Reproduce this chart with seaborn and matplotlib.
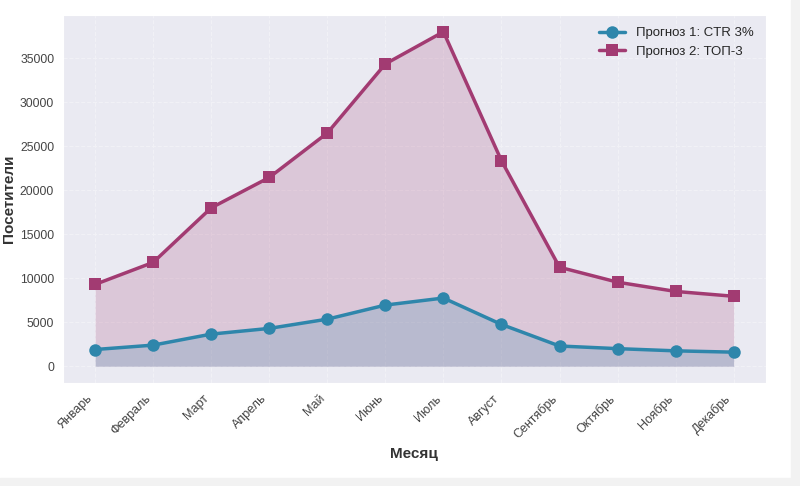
import pandas as pd
import matplotlib.pyplot as plt
import seaborn as sns
from matplotlib.patches import Rectangle

# Data
months = ["Январь", "Февраль", "Март", "Апрель", "Май", "Июнь",
          "Июль", "Август", "Сентябрь", "Октябрь", "Ноябрь", "Декабрь"]
forecast_ctr = [1900, 2400, 3650, 4300, 5350, 6950, 7750, 4750, 2300, 2000, 1750, 1600]
forecast_top3 = [9300, 11800, 18000, 21450, 26500, 34350, 38000, 23350, 11250, 9550, 8500, 7950]

label_ctr = "Прогноз 1: CTR 3%"
label_top3 = "Прогноз 2: ТОП-3"
blue = "#2E86AB"
pink = "#A23B72"

df = pd.DataFrame({"Месяц": months, "ctr": forecast_ctr, "top3": forecast_top3})
df["x"] = range(len(months))

sns.set_style("darkgrid", {"grid.linestyle": "--", "grid.color": "#F1F1F6"})
plt.rcParams['font.family'] = ['Liberation Sans', 'DejaVu Sans']

fig = plt.figure(figsize=(8, 4.86), dpi=100)
ax = fig.add_axes([0.079, 0.212, 0.878, 0.757])

# screenshot border in the reference
fig.patches.append(Rectangle((791 / 800, 0), 9 / 800, 1, transform=fig.transFigure,
                             color="#F2F2F2", zorder=-1))
fig.patches.append(Rectangle((0, 0), 1, 8 / 486, transform=fig.transFigure,
                             color="#F2F2F2", zorder=-1))

ax.fill_between(df["x"], df["top3"], color=pink, alpha=0.2, linewidth=0)
ax.fill_between(df["x"], df["ctr"], color=blue, alpha=0.2, linewidth=0)
sns.lineplot(data=df, x="x", y="ctr", ax=ax, color=blue, marker="o", markersize=9,
             markeredgewidth=0, linewidth=2.5, label=label_ctr)
sns.lineplot(data=df, x="x", y="top3", ax=ax, color=pink, marker="s", markersize=9,
             markeredgewidth=0, linewidth=2.5, label=label_top3)

ax.set_xticks(df["x"])
ax.set_xticklabels(months, rotation=45, ha="right", fontsize=9, color="#444444")
ax.tick_params(axis="y", labelsize=8.7, labelcolor="#444444", pad=3)
ax.set_yticks(range(0, 40000, 5000))
ax.set_xlabel("Месяц", fontsize=11, fontweight="bold", color="#333333")
ax.set_ylabel("Посетители", fontsize=11, fontweight="bold", color="#333333", labelpad=3)
ax.legend(loc="upper right", frameon=False, fontsize=9.5)

plt.savefig("out.png", dpi=100)
